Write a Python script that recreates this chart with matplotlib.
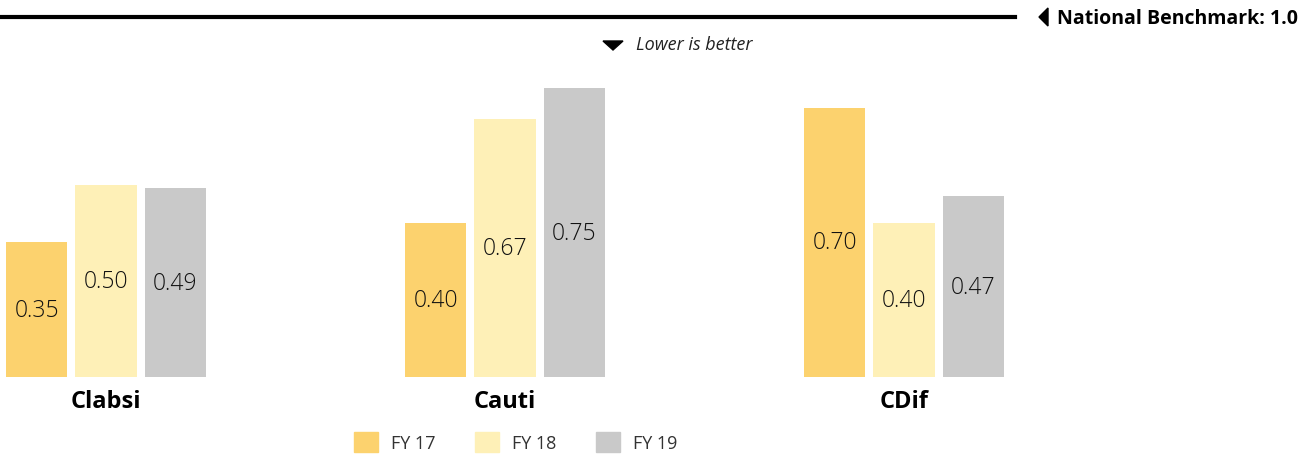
import numpy as np
import matplotlib.pyplot as plt
from matplotlib.patches import Patch, Polygon

categories = ['Clabsi', 'Cauti', 'CDif']
series = ['FY 17', 'FY 18', 'FY 19']
fy17 = [0.35, 0.40, 0.70]
fy18 = [0.50, 0.67, 0.40]
fy19 = [0.49, 0.75, 0.47]
values = [fy17, fy18, fy19]
colors = ['#fcd26e', '#fef0b7', '#c9c9c9']
benchmark = 1.0

plt.rcParams['font.family'] = ['Open Sans', 'DejaVu Sans']

W, H = 1308, 456
fig = plt.figure(figsize=(W/100, H/100), dpi=100)
ax = fig.add_axes([0, 78/H, 1, 378/H])

x = np.arange(len(categories))
w = 0.153
off = 0.174
for i, (vals, c) in enumerate(zip(values, colors)):
    bars = ax.bar(x + (i-1)*off, vals, width=w, color=c)
    for b, v in zip(bars, vals):
        ax.text(b.get_x() + b.get_width()/2, v/2, f'{v:.2f}', ha='center', va='center',
                fontsize=16.5, color='#111111', fontweight='light')

ax.set_xlim(-106/399, (W-106)/399)
ax.set_ylim(0, 378/385)
ax.axis('off')

for xi, cat in zip(x, categories):
    ax.text(xi, -0.03, cat, ha='center', va='top', fontsize=17, fontweight='bold')

# benchmark line drawn at top (not to scale)
ax.plot([0, 1015/W], [0.952, 0.952], transform=ax.transAxes, color='black', lw=3,
        clip_on=False)
fig.patches.append(Polygon([[1039/W, 1-18/H], [1048/W, 1-9/H], [1048/W, 1-27/H]],
                           closed=True, color='black', transform=fig.transFigure))
fig.text(1057/W, 1-19/H, f'National Benchmark: {benchmark:.1f}', ha='left', va='center',
         fontsize=14, fontweight='bold')
fig.patches.append(Polygon([[603/W, 1-42/H], [623/W, 1-42/H], [613/W, 1-51/H]],
                           closed=True, color='black', transform=fig.transFigure))
fig.text(636/W, 1-45/H, 'Lower is better', ha='left', va='center', fontsize=13,
         style='italic', color='#222222')

handles = [Patch(color=c, label=s) for c, s in zip(colors, series)]
fig.legend(handles=handles, loc='center left', bbox_to_anchor=(354/W, 1-443/H),
           ncol=3, frameon=False, fontsize=13, handlelength=1.33, handleheight=1.33,
           columnspacing=2.2, handletextpad=0.72, borderpad=0, borderaxespad=0,
           labelcolor='#333333')

fig.savefig('out.png', dpi=100)
